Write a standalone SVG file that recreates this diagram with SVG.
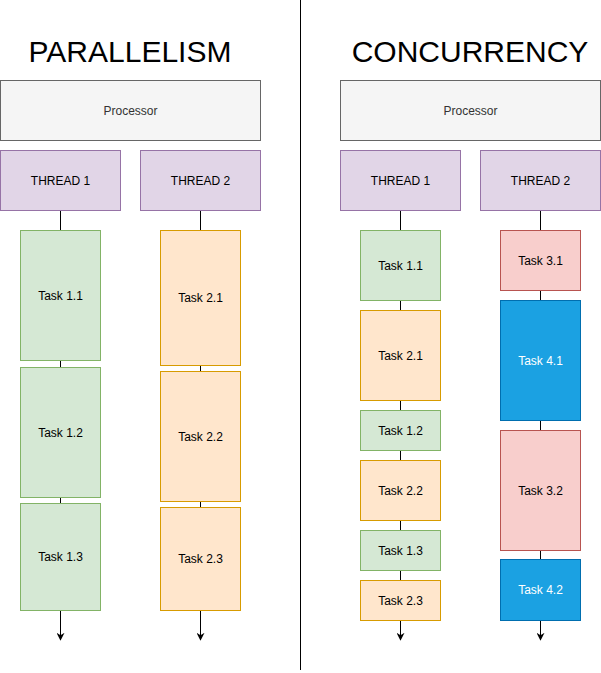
<svg xmlns="http://www.w3.org/2000/svg" width="601" height="673" viewBox="0 0 601 673">
<style>
text{font-family:"Liberation Sans",Arial,sans-serif;font-size:12px;text-anchor:middle;dominant-baseline:central;fill:#000}
.title{font-size:30px;dominant-baseline:auto}
.proc rect{fill:#f5f5f5;stroke:#666666}
.proc text{fill:#333333}
.thr rect{fill:#e1d5e7;stroke:#9673a6}
.g rect{fill:#d5e8d4;stroke:#82b366}
.o rect{fill:#ffe6cc;stroke:#d79b00}
.r rect{fill:#f8cecc;stroke:#b85450}
.b rect{fill:#1ba1e2;stroke:#006eaf}
.b text{fill:#ffffff}
.conn line{stroke:#000;stroke-width:1}
</style>
<defs>
<marker id="arr" viewBox="0 0 10 10" refX="9" refY="5" markerWidth="8" markerHeight="8" markerUnits="userSpaceOnUse" orient="auto">
<path d="M0,0 L10,5 L0,10 L3,5 Z" fill="#000"/>
</marker>
</defs>
<rect width="601" height="673" fill="#fff"/>
<line x1="300.5" y1="0" x2="300.5" y2="670" stroke="#000"/>
<text class="title" x="130" y="62">PARALLELISM</text>
<text class="title" x="470" y="62">CONCURRENCY</text>

<g class="conn">
<line x1="60.5" y1="210.5" x2="60.5" y2="230.5"/>
<line x1="60.5" y1="360.5" x2="60.5" y2="367.5"/>
<line x1="60.5" y1="497.5" x2="60.5" y2="503.5"/>
<line x1="60.5" y1="610.5" x2="60.5" y2="640" marker-end="url(#arr)"/>
<line x1="200.5" y1="210.5" x2="200.5" y2="230.5"/>
<line x1="200.5" y1="365.5" x2="200.5" y2="371.5"/>
<line x1="200.5" y1="501.5" x2="200.5" y2="507.5"/>
<line x1="200.5" y1="610.5" x2="200.5" y2="640" marker-end="url(#arr)"/>
<line x1="400.5" y1="210.5" x2="400.5" y2="230.5"/>
<line x1="400.5" y1="300.5" x2="400.5" y2="310.5"/>
<line x1="400.5" y1="400.5" x2="400.5" y2="410.5"/>
<line x1="400.5" y1="450.5" x2="400.5" y2="460.5"/>
<line x1="400.5" y1="520.5" x2="400.5" y2="530.5"/>
<line x1="400.5" y1="570.5" x2="400.5" y2="580.5"/>
<line x1="400.5" y1="620.5" x2="400.5" y2="640" marker-end="url(#arr)"/>
<line x1="540.5" y1="210.5" x2="540.5" y2="230.5"/>
<line x1="540.5" y1="290.5" x2="540.5" y2="300.5"/>
<line x1="540.5" y1="420.5" x2="540.5" y2="430.5"/>
<line x1="540.5" y1="550.5" x2="540.5" y2="559.5"/>
<line x1="540.5" y1="620.5" x2="540.5" y2="640" marker-end="url(#arr)"/>
</g>

<g id="proc-left" class="proc"><rect x="0.5" y="80.5" width="260" height="60"/><text x="130.5" y="110.5">Processor</text></g>
<g id="thread1-left" class="thr"><rect x="0.5" y="150.5" width="120" height="60"/><text x="60.5" y="180.5">THREAD 1</text></g>
<g id="thread2-left" class="thr"><rect x="140.5" y="150.5" width="120" height="60"/><text x="200.5" y="180.5">THREAD 2</text></g>
<g id="p-task11" class="g"><rect x="20.5" y="230.5" width="80" height="130"/><text x="60.5" y="295.5">Task 1.1</text></g>
<g id="p-task12" class="g"><rect x="20.5" y="367.5" width="80" height="130"/><text x="60.5" y="432.5">Task 1.2</text></g>
<g id="p-task13" class="g"><rect x="20.5" y="503.5" width="80" height="107"/><text x="60.5" y="557">Task 1.3</text></g>
<g id="p-task21" class="o"><rect x="160.5" y="230.5" width="80" height="135"/><text x="200.5" y="298">Task 2.1</text></g>
<g id="p-task22" class="o"><rect x="160.5" y="371.5" width="80" height="130"/><text x="200.5" y="436.5">Task 2.2</text></g>
<g id="p-task23" class="o"><rect x="160.5" y="507.5" width="80" height="103"/><text x="200.5" y="559">Task 2.3</text></g>

<g id="proc-right" class="proc"><rect x="340.5" y="80.5" width="260" height="60"/><text x="470.5" y="110.5">Processor</text></g>
<g id="thread1-right" class="thr"><rect x="340.5" y="150.5" width="120" height="60"/><text x="400.5" y="180.5">THREAD 1</text></g>
<g id="thread2-right" class="thr"><rect x="480.5" y="150.5" width="120" height="60"/><text x="540.5" y="180.5">THREAD 2</text></g>
<g id="c-task11" class="g"><rect x="360.5" y="230.5" width="80" height="70"/><text x="400.5" y="265.5">Task 1.1</text></g>
<g id="c-task21" class="o"><rect x="360.5" y="310.5" width="80" height="90"/><text x="400.5" y="355.5">Task 2.1</text></g>
<g id="c-task12" class="g"><rect x="360.5" y="410.5" width="80" height="40"/><text x="400.5" y="430.5">Task 1.2</text></g>
<g id="c-task22" class="o"><rect x="360.5" y="460.5" width="80" height="60"/><text x="400.5" y="490.5">Task 2.2</text></g>
<g id="c-task13" class="g"><rect x="360.5" y="530.5" width="80" height="40"/><text x="400.5" y="550.5">Task 1.3</text></g>
<g id="c-task23" class="o"><rect x="360.5" y="580.5" width="80" height="40"/><text x="400.5" y="600.5">Task 2.3</text></g>
<g id="c-task31" class="r"><rect x="500.5" y="230.5" width="80" height="60"/><text x="540.5" y="260.5">Task 3.1</text></g>
<g id="c-task41" class="b"><rect x="500.5" y="300.5" width="80" height="120"/><text x="540.5" y="360.5">Task 4.1</text></g>
<g id="c-task32" class="r"><rect x="500.5" y="430.5" width="80" height="120"/><text x="540.5" y="490.5">Task 3.2</text></g>
<g id="c-task42" class="b"><rect x="500.5" y="559.5" width="80" height="61"/><text x="540.5" y="590">Task 4.2</text></g>
</svg>
